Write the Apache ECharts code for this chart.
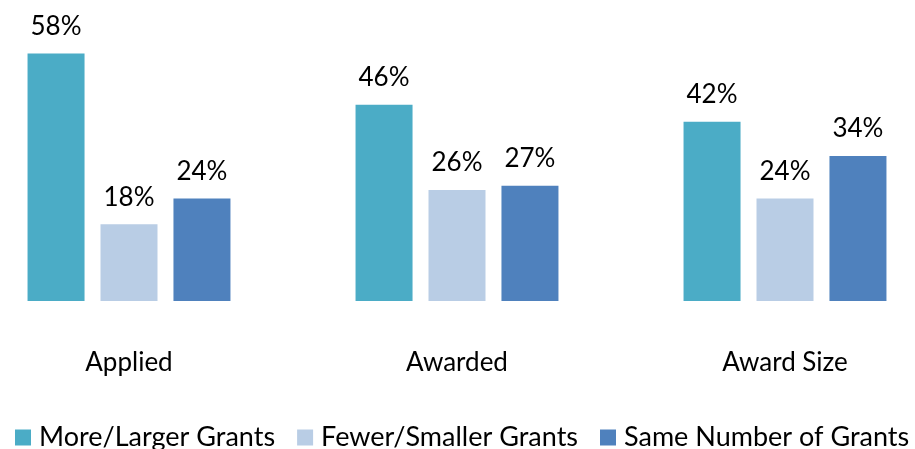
<!DOCTYPE html>
<html>
<head>
<meta charset="utf-8">
<script src="https://cdn.jsdelivr.net/npm/echarts@6/dist/echarts.min.js"></script>
<style>
  html, body { margin: 0; padding: 0; background: #fff; overflow: hidden; }
  /* 绘图区比窗口略宽，左右两侧各溢出一点 */
  #chart { width: 984px; height: 449px; margin-left: -35px; }
</style>
</head>
<body>
<div id="chart"></div>
<script>
// 数据
const categories = ['Applied', 'Awarded', 'Award Size']
const moreLarger = [58, 46, 42]
const fewerSmaller = [18, 26, 24]
const sameNumber = [24, 27, 34]
const seriesNames = ['More/Larger Grants', 'Fewer/Smaller Grants', 'Same Number of Grants']
const colors = ['#4BACC6', '#B9CDE5', '#4F81BD']

const FONT = 'Lato'

function makeSeries(name, data, color) {
  return {
    name: name,
    type: 'bar',
    data: data,
    barWidth: 57,
    barGap: '28%',
    itemStyle: { color: color },
    label: {
      show: true,
      position: 'top',
      distance: 14,
      formatter: '{c}%',
      color: '#000',
      fontFamily: FONT,
      fontSize: 26
    }
  }
}

const chart = echarts.init(document.getElementById('chart'))
chart.setOption({
  animation: false,
  textStyle: { fontFamily: FONT },
  grid: { left: 0, right: 0, top: 45, bottom: 148 },
  legend: {
    bottom: -7,
    left: 45,
    itemWidth: 16,
    itemHeight: 16,
    itemGap: 22,
    icon: 'rect',
    textStyle: { fontFamily: FONT, fontSize: 27, color: '#000', padding: [0, 0, 0, 3] },
    data: seriesNames
  },
  xAxis: {
    type: 'category',
    data: categories,
    axisLine: { show: false },
    axisTick: { show: false },
    axisLabel: { color: '#000', fontFamily: FONT, fontSize: 26, margin: 49 }
  },
  yAxis: {
    type: 'value',
    min: 0,
    max: 60,
    show: false,
    splitLine: { show: false }
  },
  series: [
    makeSeries(seriesNames[0], moreLarger, colors[0]),
    makeSeries(seriesNames[1], fewerSmaller, colors[1]),
    makeSeries(seriesNames[2], sameNumber, colors[2])
  ]
})
</script>
</body>
</html>
